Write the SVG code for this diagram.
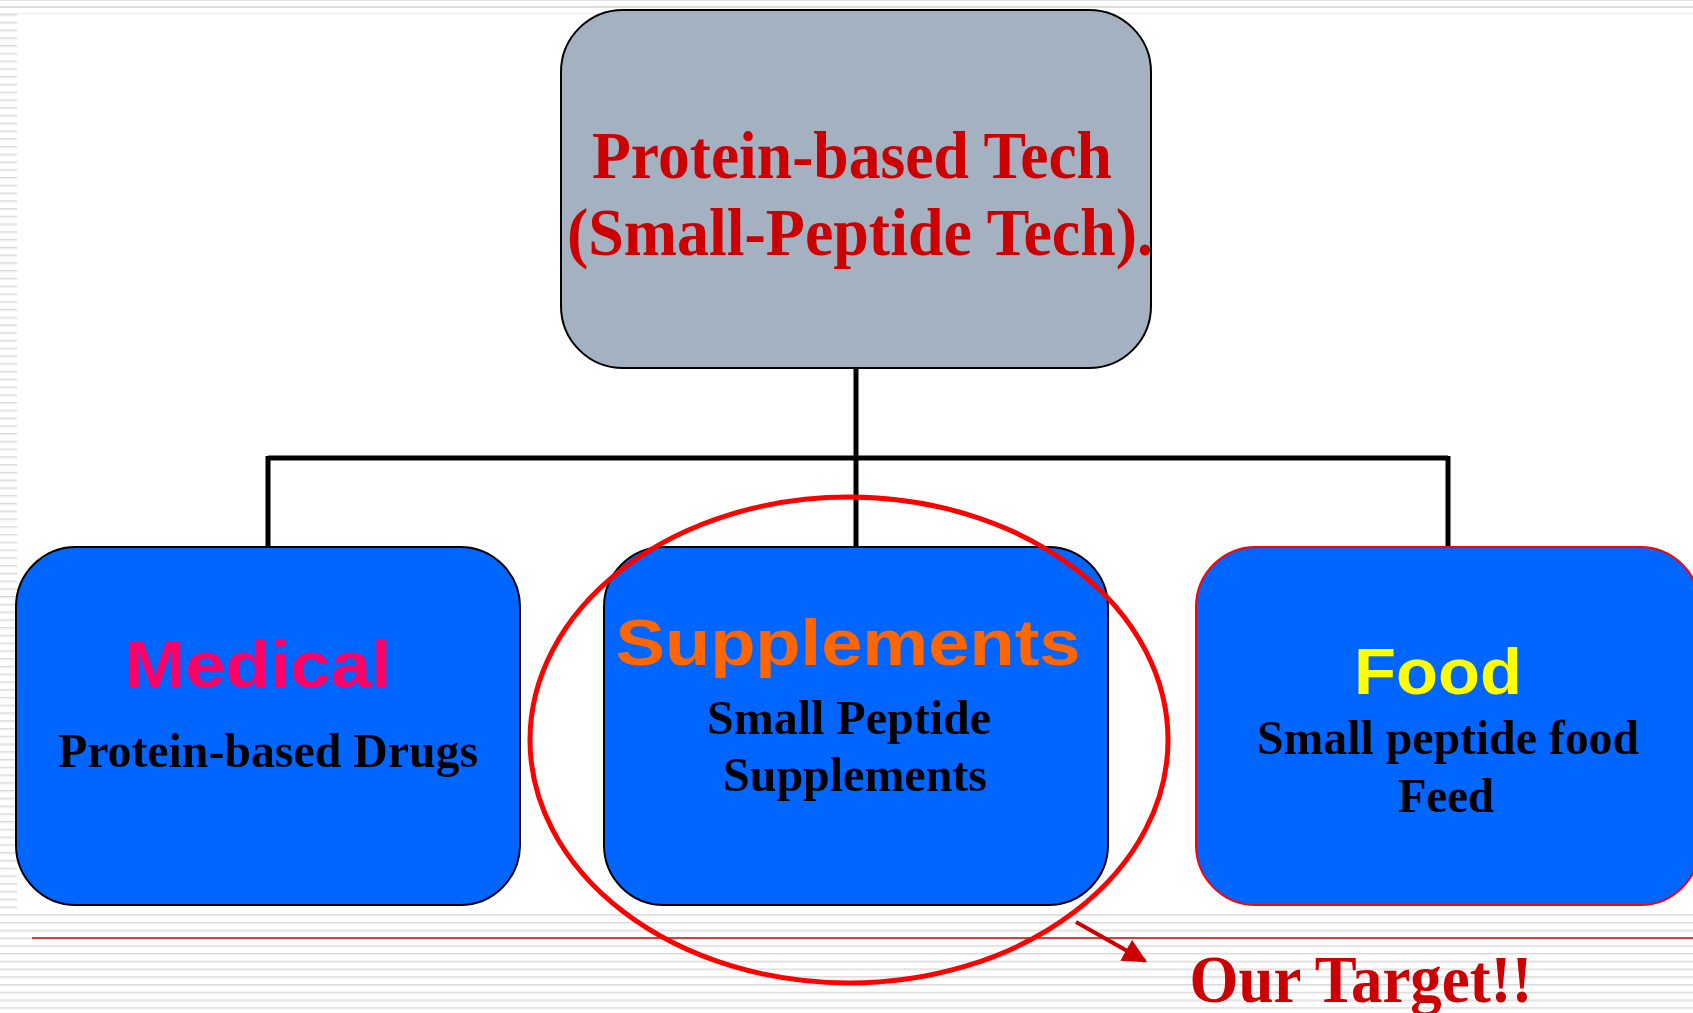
<svg xmlns="http://www.w3.org/2000/svg" width="1693" height="1013" viewBox="0 0 1693 1013">
<defs>
<pattern id="stripes" x="0" y="14" width="20" height="7.76" patternUnits="userSpaceOnUse">
<rect x="0" y="0" width="20" height="1.3" fill="#d9d9d9"/>
<rect x="0" y="1.3" width="20" height="1" fill="#ececec"/>
</pattern>
<marker id="arrow" viewBox="0 0 10 10" refX="9" refY="5" markerWidth="6.5" markerHeight="6" orient="auto" markerUnits="strokeWidth">
<path d="M0,0 L10,5 L0,10 z" fill="#CC0000"/>
</marker>
</defs>
<style>
.serif{font-family:"Liberation Serif","Times New Roman",serif;font-weight:bold;}
.sans{font-family:"Liberation Sans",Arial,sans-serif;font-weight:bold;}
.box{fill:#0066FF;stroke:#000;stroke-width:2;}
.conn{stroke:#000;stroke-width:5;fill:none;}
</style>
<rect width="1693" height="1013" fill="#ffffff"/>
<g id="background">
<rect x="0" y="0" width="1693" height="1" fill="#e4e4e4"/>
<rect x="0" y="6" width="1693" height="2" fill="#dcdcdc"/>
<rect x="0" y="13" width="1693" height="1" fill="#ececec"/>
<rect x="0" y="14" width="17" height="900" fill="url(#stripes)"/>
<rect x="0" y="912" width="1693" height="101" fill="url(#stripes)"/>
<line x1="32" y1="938" x2="1693" y2="938" stroke="#E00000" stroke-width="1.5"/>
</g>
<g id="connectors">
<path class="conn" d="M856,368 V458 M268,458 H1448 M268,456 V547 M856,458 V547 M1448,456 V547"/>
<line x1="1076" y1="922" x2="1145" y2="961" stroke="#CC0000" stroke-width="4" marker-end="url(#arrow)"/>
</g>
<g id="node-top">
<rect x="561" y="10" width="590" height="358" rx="62" fill="#A3B1C0" stroke="#000" stroke-width="2"/>
<text class="serif" x="852" y="178" font-size="68" fill="#CC0000" text-anchor="middle" textLength="520" lengthAdjust="spacingAndGlyphs">Protein-based Tech</text>
<text class="serif" x="860" y="255" font-size="68" fill="#CC0000" text-anchor="middle" textLength="586" lengthAdjust="spacingAndGlyphs">(Small-Peptide Tech).</text>
</g>
<g id="node-medical">
<rect class="box" x="16" y="547" width="504" height="358" rx="60"/>
<text class="sans" x="258" y="687" font-size="64" fill="#FF0066" text-anchor="middle" textLength="267" lengthAdjust="spacingAndGlyphs">Medical</text>
<text class="serif" x="268" y="767" font-size="49" fill="#000" text-anchor="middle" textLength="420" lengthAdjust="spacingAndGlyphs">Protein-based Drugs</text>
</g>
<g id="node-supplements">
<rect class="box" x="604" y="547" width="504" height="358" rx="60"/>
<text class="sans" x="848" y="665" font-size="64" fill="#FF6600" text-anchor="middle" textLength="465" lengthAdjust="spacingAndGlyphs">Supplements</text>
<text class="serif" x="849" y="734" font-size="49" fill="#000" text-anchor="middle" textLength="284" lengthAdjust="spacingAndGlyphs">Small Peptide</text>
<text class="serif" x="855" y="791" font-size="49" fill="#000" text-anchor="middle" textLength="264" lengthAdjust="spacingAndGlyphs">Supplements</text>
</g>
<g id="node-food">
<rect x="1196" y="547" width="504" height="358" rx="60" fill="#0066FF" stroke="#FF0000" stroke-width="2"/>
<text class="sans" x="1438" y="694" font-size="64" fill="#FFFF00" text-anchor="middle" textLength="168" lengthAdjust="spacingAndGlyphs">Food</text>
<text class="serif" x="1448" y="754" font-size="49" fill="#000" text-anchor="middle" textLength="382" lengthAdjust="spacingAndGlyphs">Small peptide food</text>
<text class="serif" x="1446" y="812" font-size="49" fill="#000" text-anchor="middle" textLength="96" lengthAdjust="spacingAndGlyphs">Feed</text>
</g>
<g id="target">
<ellipse cx="849" cy="740" rx="319" ry="243" fill="none" stroke="#FF0000" stroke-width="5"/>
<text class="serif" x="1361" y="1002" font-size="68" fill="#CC0000" text-anchor="middle" textLength="343" lengthAdjust="spacingAndGlyphs">Our Target!!</text>
</g>
</svg>
